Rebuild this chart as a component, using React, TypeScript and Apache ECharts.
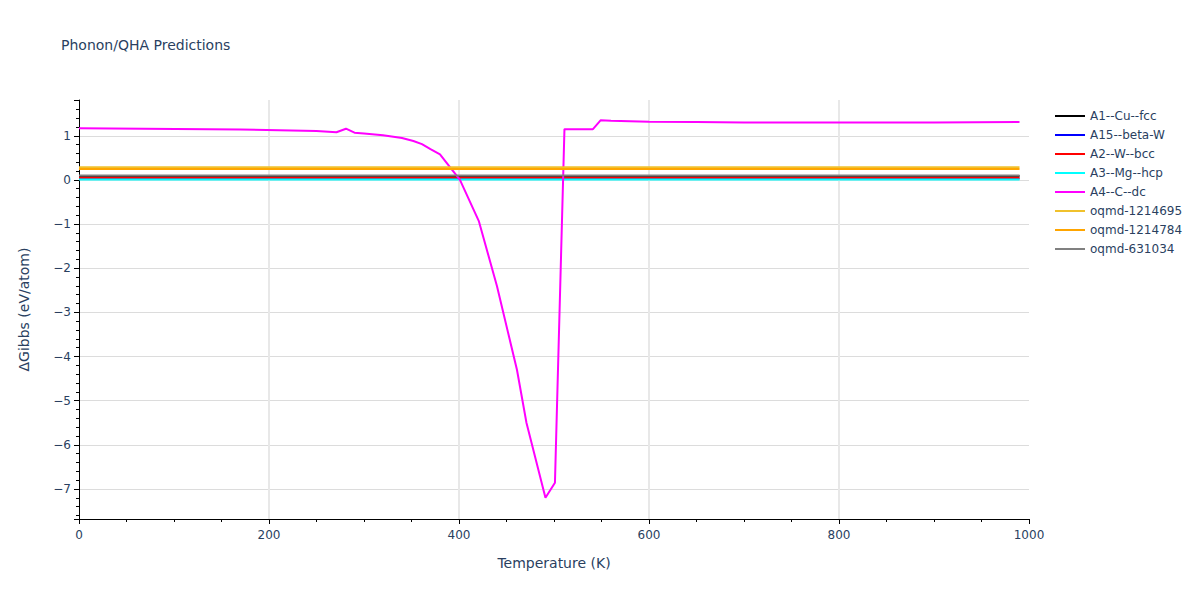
import React, { useEffect, useRef } from "react";
import * as echarts from "echarts";

const seriesNames = [
  "A1--Cu--fcc",
  "A15--beta-W",
  "A2--W--bcc",
  "A3--Mg--hcp",
  "A4--C--dc",
  "oqmd-1214695",
  "oqmd-1214784",
  "oqmd-631034",
];
const seriesColors = ["#000000", "#0000ff", "#ff0000", "#00ffff", "#ff00ff", "#f0c12c", "#ffa500", "#808080"];

// flat series: value at start and end temperatures
const flatTemps = [0, 990];
const cuFcc = [0.09, 0.09];
const betaW = [0.03, 0.03];
const wBcc = [0.05, 0.05];
const mgHcp = [0.01, 0.01];
const oqmd1214695 = [0.285, 0.285];
const oqmd1214784 = [0.25, 0.25];
const oqmd631034 = [0.1, 0.1];

// A4--C--dc
const cTemps = [0, 170, 250, 271, 281, 290, 300, 320, 340, 352, 361, 370, 380, 401, 421, 440, 461, 471, 491, 501, 511, 541, 549, 560, 600, 650, 700, 800, 900, 990];
const cValues = [1.17, 1.14, 1.11, 1.08, 1.16, 1.07, 1.05, 1.01, 0.95, 0.88, 0.81, 0.7, 0.58, 0.0, -0.94, -2.41, -4.3, -5.5, -7.2, -6.86, 1.15, 1.15, 1.35, 1.34, 1.32, 1.31, 1.3, 1.3, 1.3, 1.31];

const FONT = "DejaVu Sans, Verdana, sans-serif";

export default function App() {
  const ref = useRef<HTMLDivElement>(null);
  useEffect(() => {
    if (!ref.current) return;
    const chart = echarts.init(ref.current, null, { renderer: "svg" });
    const flat = [cuFcc, betaW, wBcc, mgHcp, null, oqmd1214695, oqmd1214784, oqmd631034];
    const series = seriesNames.map((name, i) => {
      const vals = flat[i];
      const data = vals ? flatTemps.map((t, j) => [t, vals[j]]) : cTemps.map((t, j) => [t, cValues[j]]);
      return {
        name,
        type: "line",
        data,
        showSymbol: false,
        symbol: "none",
        lineStyle: { color: seriesColors[i], width: 2 },
        itemStyle: { color: seriesColors[i] },
        z: 2 + i,
      };
    });
    const textColor = "#2a3f5f";
    chart.setOption({
      animation: false,
      textStyle: { fontFamily: FONT },
      title: {
        text: "Phonon/QHA Predictions",
        left: 56,
        top: 33,
        textStyle: { fontSize: 14, fontWeight: "normal", color: textColor, fontFamily: FONT },
      },
      legend: {
        orient: "vertical",
        left: 1049,
        top: 105,
        itemWidth: 30,
        itemHeight: 14,
        itemGap: 7,
        itemStyle: { opacity: 0 },
        textStyle: { fontSize: 12, color: textColor, fontFamily: FONT },
        data: seriesNames,
      },
      grid: { left: 79, right: 171, top: 100, bottom: 81, containLabel: false },
      xAxis: {
        type: "value",
        min: 0,
        max: 1000,
        interval: 200,
        name: "Temperature (K)",
        nameLocation: "middle",
        nameGap: 37,
        nameTextStyle: { fontSize: 14, color: textColor, fontFamily: FONT },
        axisLine: { show: true, onZero: false, lineStyle: { color: "#000", width: 1 } },
        axisTick: { show: true, length: 5, lineStyle: { color: "#000" } },
        minorTick: { show: true, splitNumber: 4, length: 3, lineStyle: { color: "#000" } },
        axisLabel: { fontSize: 12, color: textColor, margin: 10, fontFamily: FONT, formatter: (v: number) => String(v) },
        splitLine: { show: true, showMinLine: false, showMaxLine: false, lineStyle: { color: "#e8e8e8", width: 2 } },
      },
      yAxis: {
        type: "value",
        min: -7.68,
        max: 1.81,
        splitNumber: 9,
        name: "ΔGibbs (eV/atom)",
        nameLocation: "middle",
        nameGap: 48,
        nameTextStyle: { fontSize: 14, color: textColor, fontFamily: FONT },
        axisLine: { show: true, lineStyle: { color: "#000", width: 1 } },
        axisTick: { show: true, length: 5, lineStyle: { color: "#000" } },
        minorTick: { show: true, splitNumber: 5, length: 3, lineStyle: { color: "#000" } },
        axisLabel: {
          fontSize: 12,
          color: textColor,
          margin: 8,
          fontFamily: FONT,
          showMinLabel: false,
          showMaxLabel: false,
          formatter: (v: number) => (Number.isInteger(v) ? String(v).replace("-", "\u2212") : ""),
        },
        splitLine: { show: true, showMinLine: false, showMaxLine: false, lineStyle: { color: "#dcdcdc", width: 1 } },
      },
      series,
    });
    return () => chart.dispose();
  }, []);
  return <div ref={ref} style={{ position: "fixed", left: 0, top: 0, width: 1200, height: 600, background: "#fff" }} />;
}
